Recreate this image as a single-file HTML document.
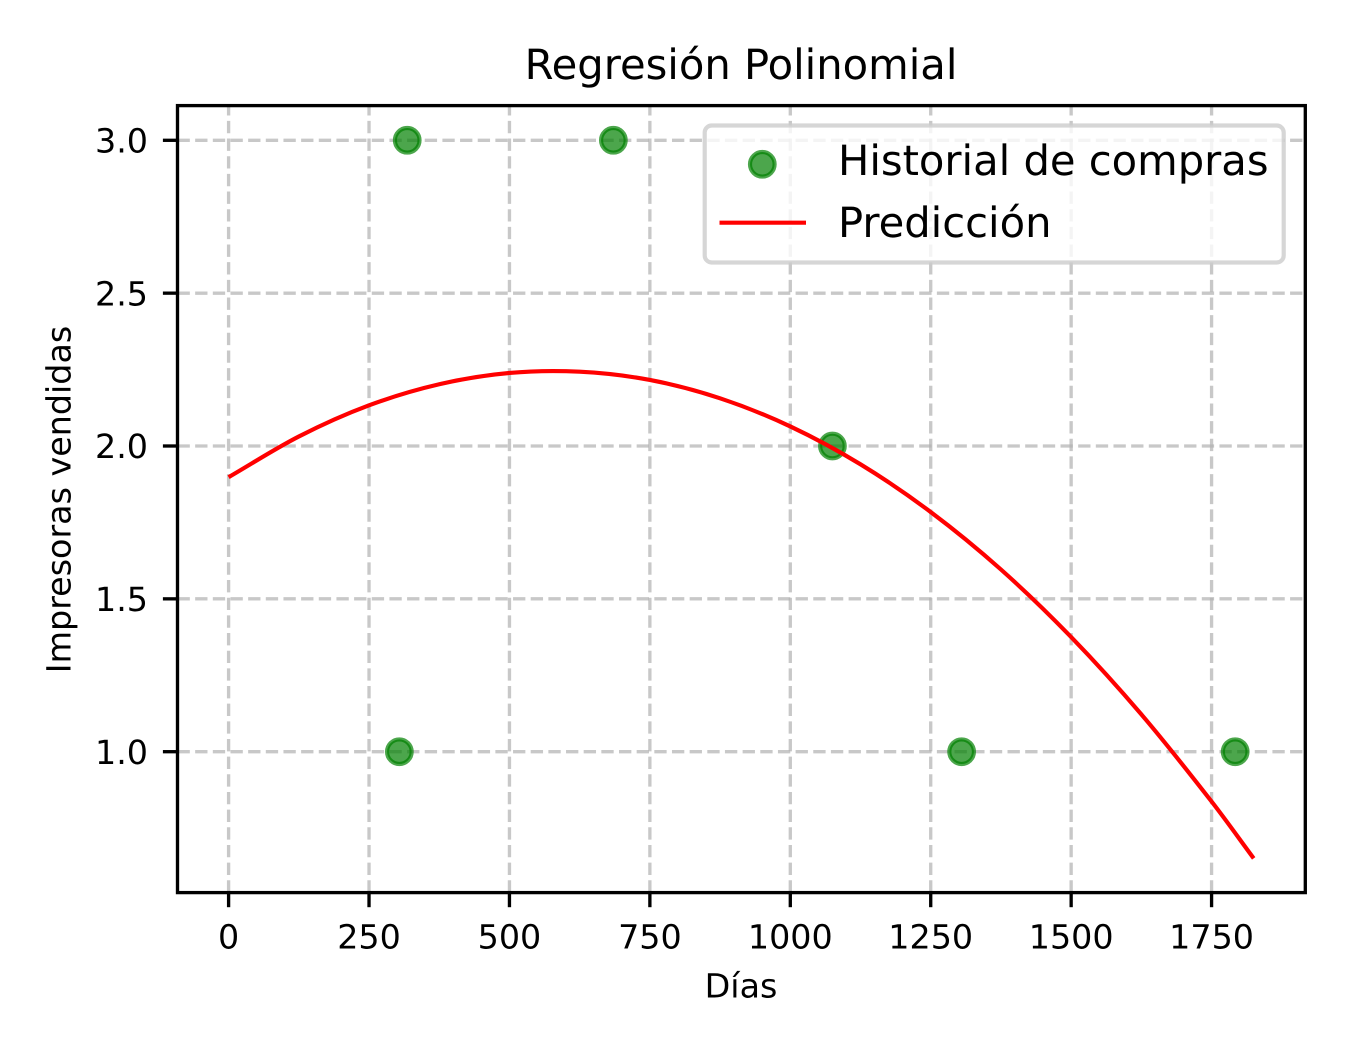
<!DOCTYPE html>
<html lang="es">
<head>
<meta charset="utf-8">
<title>Regresión Polinomial</title>
<style>
html,body{margin:0;padding:0;background:#fff;width:1350px;height:1050px;overflow:hidden}
svg{display:block}
text{font-family:"DejaVu Sans","Liberation Sans",sans-serif;fill:#000;text-rendering:geometricPrecision}
</style>
</head>
<body>
<svg id="chart" xmlns="http://www.w3.org/2000/svg" width="1350" height="1050" viewBox="0 0 1350 1050">
  <rect x="0" y="0" width="1350" height="1050" fill="#fff"/>
  <g id="grid"></g>
  <g id="series"></g>
  <g id="ticks"></g>
  <rect x="177.5" y="105.6" width="1127.8" height="787" fill="none" stroke="#000" stroke-width="3.33"/>
  <text x="741" y="79" font-size="41.67" text-anchor="middle">Regresión Polinomial</text>
  <text x="741" y="997.5" font-size="33.33" text-anchor="middle">Días</text>
  <text x="0" y="0" font-size="33.33" text-anchor="middle" transform="translate(70.5 499.5) rotate(-90)">Impresoras vendidas</text>
  <g>
    <rect x="704.7" y="125.5" width="579" height="137" rx="7" ry="7" fill="#fff" fill-opacity="0.8" stroke="#ccc" stroke-opacity="0.8" stroke-width="4.17"/>
    <circle cx="762.3" cy="164.3" r="12.3" fill="#008000" fill-opacity="0.7" stroke="#008000" stroke-opacity="0.7" stroke-width="4.17"/>
    <text x="838" y="175" font-size="41.67">Historial de compras</text>
    <line x1="719.5" y1="222.7" x2="806" y2="222.7" stroke="#f00" stroke-width="4.17"/>
    <text x="838" y="237" font-size="41.67">Predicción</text>
  </g>
</svg>
<script>
const xTicks = [0, 250, 500, 750, 1000, 1250, 1500, 1750];
const yTicks = [1.0, 1.5, 2.0, 2.5, 3.0];
const xTickLabels = ["0", "250", "500", "750", "1000", "1250", "1500", "1750"];
const yTickLabels = ["1.0", "1.5", "2.0", "2.5", "3.0"];
const purchaseDays = [304, 318, 685, 1075, 1305, 1792];
const purchaseUnits = [1, 3, 3, 2, 1, 1];
const predictionDays = [0, 125, 250, 375, 500, 625, 750, 875, 1000, 1125, 1250, 1375, 1500, 1625, 1750, 1825];
const predictionUnits = [1.898, 2.031, 2.133, 2.202, 2.239, 2.243, 2.216, 2.156, 2.064, 1.940, 1.784, 1.596, 1.375, 1.122, 0.837, 0.651];

const NS = 'http://www.w3.org/2000/svg';
const plotLeft = 177.5, plotRight = 1305.3, plotTop = 105.6, plotBottom = 892.6;
function sx(v) { return 228.6 + v * 0.5617; }
function sy(v) { return 751.7 - (v - 1) * 305.7; }
function make(tag, attrs) {
  const el = document.createElementNS(NS, tag);
  for (const k in attrs) el.setAttribute(k, attrs[k]);
  return el;
}
const gridG = document.getElementById('grid');
const seriesG = document.getElementById('series');
const ticksG = document.getElementById('ticks');
const gridStyle = { stroke: '#b0b0b0', 'stroke-opacity': 0.7, 'stroke-width': 3.33, 'stroke-dasharray': '12.33 5.33', fill: 'none' };

xTicks.forEach(function (t, i) {
  const x = sx(t);
  const g = make('line', Object.assign({ x1: x, y1: plotBottom, x2: x, y2: plotTop }, gridStyle));
  
  
  gridG.appendChild(g);
  const m = make('line', { x1: x, y1: plotBottom, x2: x, y2: plotBottom + 14.6, stroke: '#000', 'stroke-width': 3.33 });
  
  
  ticksG.appendChild(m);
  const l = make('text', { x: x, y: 948.3, 'font-size': 33.33, 'text-anchor': 'middle' });
  
  
  l.textContent = xTickLabels[i];
  ticksG.appendChild(l);
});

yTicks.forEach(function (t, i) {
  const y = sy(t);
  const g = make('line', Object.assign({ x1: plotLeft, y1: y, x2: plotRight, y2: y }, gridStyle));
  
  
  gridG.appendChild(g);
  const m = make('line', { x1: plotLeft, y1: y, x2: plotLeft - 14.6, y2: y, stroke: '#000', 'stroke-width': 3.33 });
  
  
  ticksG.appendChild(m);
  const l = make('text', { x: 148, y: y + 12.2, 'font-size': 33.33, 'text-anchor': 'end' });
  
  
  l.textContent = yTickLabels[i];
  ticksG.appendChild(l);
});

purchaseDays.forEach(function (d, i) {
  const c = make('circle', { cx: sx(d), cy: sy(purchaseUnits[i]), r: 12.3, fill: '#008000', 'fill-opacity': 0.7, stroke: '#008000', 'stroke-opacity': 0.7, 'stroke-width': 4.17 });
  
  
  seriesG.appendChild(c);
});

const pts = predictionDays.map(function (d, i) { return [sx(d), sy(predictionUnits[i])]; });
let pathD = 'M' + pts[0][0].toFixed(2) + ' ' + pts[0][1].toFixed(2);
for (let i = 0; i < pts.length - 1; i++) {
  const p0 = pts[Math.max(i - 1, 0)], p1 = pts[i], p2 = pts[i + 1], p3 = pts[Math.min(i + 2, pts.length - 1)];
  const h = p2[0] - p1[0];
  const s1 = (p2[1] - p0[1]) / (p2[0] - p0[0]);
  const s2 = (p3[1] - p1[1]) / (p3[0] - p1[0]);
  pathD += 'C' + (p1[0] + h / 3).toFixed(2) + ' ' + (p1[1] + s1 * h / 3).toFixed(2) + ' ' +
           (p2[0] - h / 3).toFixed(2) + ' ' + (p2[1] - s2 * h / 3).toFixed(2) + ' ' +
           p2[0].toFixed(2) + ' ' + p2[1].toFixed(2);
}
const curve = make('path', { d: pathD, fill: 'none', stroke: '#f00', 'stroke-width': 4.17 });


seriesG.appendChild(curve);
</script>
</body>
</html>
